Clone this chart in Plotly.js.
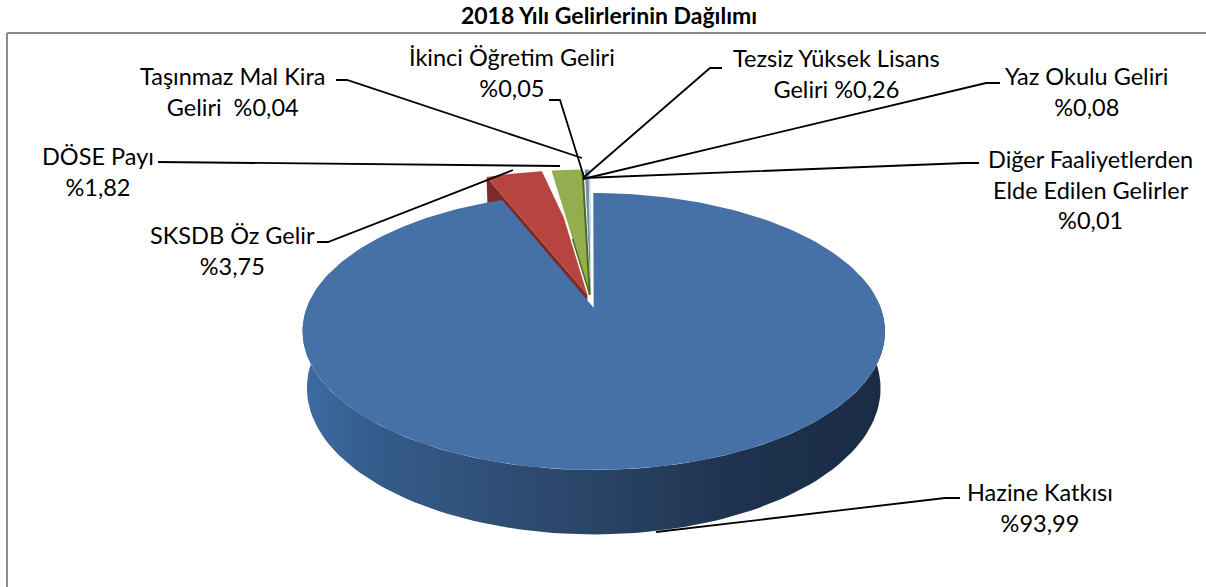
<!DOCTYPE html>
<html><head><meta charset="utf-8">
<script src="https://cdn.plot.ly/plotly-3.0.1.min.js"></script>
<style>html,body{margin:0;padding:0;background:#fff}#c{width:1206px;height:587px}</style>
</head><body><div id="c"></div>
<script>
// ---- data ----
const chartTitle = "2018 Yılı Gelirlerinin Dağılımı";
const categories = ["Hazine Katkısı","SKSDB Öz Gelir","DÖSE Payı","Taşınmaz Mal Kira Geliri","İkinci Öğretim Geliri","Tezsiz Yüksek Lisans Geliri","Yaz Okulu Geliri","Diğer Faaliyetlerden Elde Edilen Gelirler"];
const shares = [93.99,3.75,1.82,0.04,0.05,0.26,0.08,0.01];
const labelLines = [
 ["Hazine Katkısı","{v}"],
 ["SKSDB Öz Gelir","{v}"],
 ["DÖSE Payı","{v}"],
 ["Taşınmaz Mal Kira","Geliri  {v}"],
 ["İkinci Öğretim Geliri","{v}"],
 ["Tezsiz Yüksek Lisans","Geliri {v}"],
 ["Yaz Okulu Geliri","{v}"],
 ["Diğer Faaliyetlerden","Elde Edilen Gelirler","{v}"]
];
const topColors  = ["#4671a6","#b8443f","#93ad4f","#7f97b5","#8aa3bf","#6f8fb0","#7d9aba","#7d9aba"];
const wallColors = ["#2b4669","#7d2a28","#4d6a1c","#4f6a86","#4f6a86","#3f5f80","#4f6a86","#4f6a86"];

// ---- placement (pixels of the 1206x587 frame) ----
const labelCenters = [[1040,507],[232,250],[98,171],[232,91],[512,72],[836,73],[1086,91],[1090,189]];
const leaders = [
 [[960,498],[945,498],[656,532]],
 [[317,242],[328,242],[513,170]],
 [[158,162],[560,166]],
 [[336,80],[347,80],[582,158]],
 [[549,100],[560,100],[584,177]],
 [[722,68],[710,68],[583,178]],
 [[1000,83],[986,83],[583,179]],
 [[979,163],[965,163],[584,178]]
];
const frameColor = "#8c8c8c";
const labelFont = {family:"Lato, Carlito, Calibri, sans-serif", size:23.5, color:"#000"};

// ---- perspective model of the tilted disc ----
const X0=591, Y0=301.2, A=284.5, B=132.2, K=0.17, DEPTH=55, SHRINK=0.985, PULL=0.05;
const total = shares.reduce((a,b)=>a+b,0);
function deg(s){return s/total*2*Math.PI;}
function project(U,V,low){
  const w=1+K*V, f=low?SHRINK:1;
  return [X0+f*A*U/w, Y0-f*B*V/w+(low?DEPTH/w:0)];
}
let acc=0;
const slices = shares.map((s,i)=>{
  const a0=acc, a1=acc+deg(s); acc=a1;
  const mid=(a0+a1)/2;
  return {i,a0,a1,cu:PULL*Math.sin(mid),cv:PULL*Math.cos(mid),r:i===0?1:1.15};
});
function rim(sl,t,low){return project(sl.cu+sl.r*Math.sin(t),sl.cv+sl.r*Math.cos(t),low);}
function apex(sl,low){return project(sl.cu,sl.cv,low);}
function arc(sl,t0,t1,low,n){const o=[];for(let k=0;k<=n;k++)o.push(rim(sl,t0+(t1-t0)*k/n,low));return o;}
function along(sl,t,f){const a=apex(sl,false),r=rim(sl,t,false);return [a[0]+(r[0]-a[0])*f,a[1]+(r[1]-a[1])*f];}
function poly(pts,color,name,extra){
  const xs=pts.map(p=>p[0]),ys=pts.map(p=>p[1]);xs.push(xs[0]);ys.push(ys[0]);
  return Object.assign({type:"scatter",mode:"lines",x:xs,y:ys,fill:"toself",fillcolor:color,line:{width:0,color:color},hoverinfo:"text",text:name,showlegend:false},extra||{});
}
const traces=[];
// blue outer wall with side-to-side shading
const b=slices[0];
const wt0=Math.PI*0.42, wt1=Math.PI*1.58;
traces.push(poly(arc(b,wt0,wt1,false,120).concat(arc(b,wt0,wt1,true,120).reverse()),"#2b4669",categories[0],{
  fillgradient:{type:"horizontal",colorscale:[[0,"#3d6ca3"],[0.12,"#355c8c"],[0.35,"#2e4d74"],[0.55,"#284161"],[0.75,"#1e324f"],[1,"#1a2b45"]]}
}));
// inner walls and tops of the small slices, far side first
for(let i=1;i<slices.length;i++){
  const s=slices[i];
  if(i===1){
    traces.push(poly([rim(s,s.a0,false),apex(s,false),apex(s,true),rim(s,s.a0,true)],wallColors[i],categories[i]));
  }
  traces.push(poly([apex(s,false)].concat(arc(s,s.a1,s.a0,false,12)),topColors[i],categories[i]));
  if(i===1){
    // narrow gap that opens towards the rim between the two coloured slices
    const st=s.a1-(s.a1-s.a0)*0.12;
    traces.push(poly([along(s,s.a1,0.62),rim(s,s.a1+0.004,false),rim(s,st,false)],"#ffffff",categories[i]));
  }
  if(i===2){
    // dark edges of the green slice
    [s.a0,s.a1].forEach((t,j)=>{const o=along(s,t,j?0.98:0.45),a=apex(s,false);
      traces.push({type:"scatter",mode:"lines",x:[o[0],a[0]],y:[o[1],a[1]],line:{color:wallColors[i],width:j?2:1.5},hoverinfo:"skip",showlegend:false});});
  }
}
// big slice top
traces.push(poly([apex(b,false)].concat(arc(b,b.a0,b.a1,false,240)),topColors[0],categories[0]));
// leaders
leaders.forEach(l=>traces.push({type:"scatter",mode:"lines",x:l.map(p=>p[0]),y:l.map(p=>p[1]),line:{color:"#000",width:1.8},hoverinfo:"skip",showlegend:false}));

const annotations = categories.map((c,i)=>({
  xref:"x",yref:"y",x:labelCenters[i][0],y:labelCenters[i][1],showarrow:false,align:"center",
  text:labelLines[i].join("<br>").replace("{v}","%"+shares[i].toFixed(2).replace(".",",")),
  font:labelFont
}));
const layout={
  width:1206,height:587,margin:{l:0,r:0,t:0,b:0},paper_bgcolor:"#fff",plot_bgcolor:"#fff",showlegend:false,
  title:{text:"<b>"+chartTitle+"</b>",font:{family:"Lato, Carlito, Calibri, sans-serif",size:23,color:"#000"},x:0.505,xanchor:"center",y:0.972,yanchor:"middle"},
  xaxis:{range:[0,1206],visible:false,fixedrange:true},
  yaxis:{range:[587,0],visible:false,fixedrange:true},
  annotations,
  shapes:[
   {type:"line",xref:"x",yref:"y",x0:7,x1:7,y0:33,y1:587,line:{color:frameColor,width:2}},
   {type:"line",xref:"x",yref:"y",x0:7,x1:1206,y0:33,y1:33,line:{color:frameColor,width:2}}
  ]
};
Plotly.newPlot("c",traces,layout,{displayModeBar:false,staticPlot:true});
</script></body></html>
